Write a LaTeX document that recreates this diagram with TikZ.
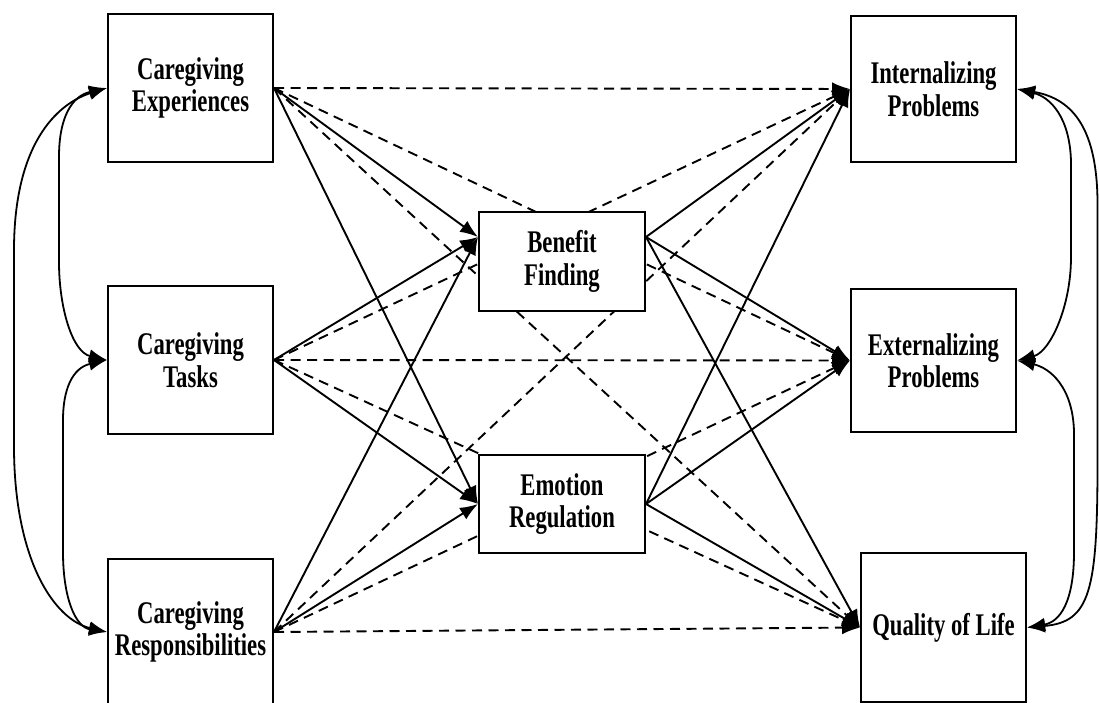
\documentclass[tikz,border=0pt]{standalone}
\usepackage{fontspec}
\newfontfamily\lblfont{Liberation Serif}[FakeStretch=0.72]
\usetikzlibrary{arrows.meta}
\pgfdeclarelayer{bg}
\pgfsetlayers{bg,main}
\tikzset{
  box/.style={draw, line width=2pt, fill=white, inner sep=0pt, align=center,
    minimum width=165pt, font=\lblfont\bfseries\fontsize{31.5}{32.5}\selectfont},
  eff/.style={line width=1.9pt, -{Latex[length=18pt,width=13.5pt]}},
  ns/.style={eff, dash pattern=on 10pt off 6.5pt},
  corr/.style={line width=1.8pt, {Latex[length=18pt,width=13.5pt]}-{Latex[length=18pt,width=13.5pt]}}
}
\begin{document}
\begin{tikzpicture}[x=1pt,y=1pt]
\useasboundingbox (0,0) rectangle (1099,702);
% predictors
\node[box, minimum height=148pt] (ce) at (190.5,614) {Caregiving\\Experiences};
\node[box, minimum height=148pt] (ct) at (190.5,342) {Caregiving\\Tasks};
\node[box, minimum height=146pt] (cr) at (190.5,70) {Caregiving\\Responsibilities};
% mediators
\node[box, minimum width=166pt, minimum height=99pt] (bf) at (562,440.5) {Benefit\\Finding};
\node[box, minimum width=166pt, minimum height=98pt] (er) at (562,198) {Emotion\\Regulation};
% outcomes
\node[box, minimum height=146pt] (ip) at (933.5,613) {Internalizing\\Problems};
\node[box, minimum height=143pt] (ep) at (933.5,341.5) {Externalizing\\Problems};
\node[box, minimum height=149pt] (ql) at (943.5,74.5) {Quality of Life};
\coordinate (bfin) at ([yshift=24.5pt]bf.west);
\coordinate (bfout) at ([yshift=24.5pt]bf.east);
\begin{pgfonlayer}{bg}
% predictors -> mediators
\draw[eff] (ce.east) -- (bfin);
\draw[eff] (ce.east) -- (er.west);
\draw[eff] (ct.east) -- (bfin);
\draw[eff] (ct.east) -- (er.west);
\draw[eff] (cr.east) -- (bfin);
\draw[eff] (cr.east) -- (er.west);
% mediators -> outcomes
\draw[eff] (bfout) -- (ip.west);
\draw[eff] (bfout) -- (ep.west);
\draw[eff] (bfout) -- (ql.west);
\draw[eff] (er.east) -- (ip.west);
\draw[eff] (er.east) -- (ep.west);
\draw[eff] (er.east) -- (ql.west);
% direct effects
\draw[ns] (ce.east) -- (ip.west);
\draw[ns] (ce.east) -- (ep.west);
\draw[ns] (ce.east) -- (ql.west);
\draw[ns] (ct.east) -- (ip.west);
\draw[ns] (ct.east) -- (ep.west);
\draw[ns] (ct.east) -- (ql.west);
\draw[ns] (cr.east) -- (ip.west);
\draw[ns] (cr.east) -- (ep.west);
\draw[ns] (cr.east) -- (ql.west);
\end{pgfonlayer}
% correlations left
\draw[corr] (ce.west) .. controls (72,606) and (59,585) .. (59,545) -- (59,440)
  .. controls (59,395) and (72,350) .. (ct.west);
\draw[corr] (ct.west) .. controls (72,334) and (63,312) .. (63,282) -- (63,150)
  .. controls (63,105) and (75,75) .. (cr.west);
\draw[corr] (ce.west) .. controls (62,600) and (15,565) .. (14,455) -- (14,252)
  .. controls (15,140) and (55,82) .. (cr.west);
% correlations right
\draw[corr] (ip.east) .. controls (1050,605) and (1070,585) .. (1071,540) -- (1071,445)
  .. controls (1071,395) and (1050,350) .. (ep.east);
\draw[corr] (ep.east) .. controls (1050,334) and (1073,315) .. (1074,270) -- (1074,150)
  .. controls (1074,100) and (1060,80) .. (ql.east);
\draw[corr] (ip.east) .. controls (1075,603) and (1097,570) .. (1097.5,500) -- (1097.5,240)
  .. controls (1097.5,110) and (1090,80) .. (ql.east);
\end{tikzpicture}
\end{document}
